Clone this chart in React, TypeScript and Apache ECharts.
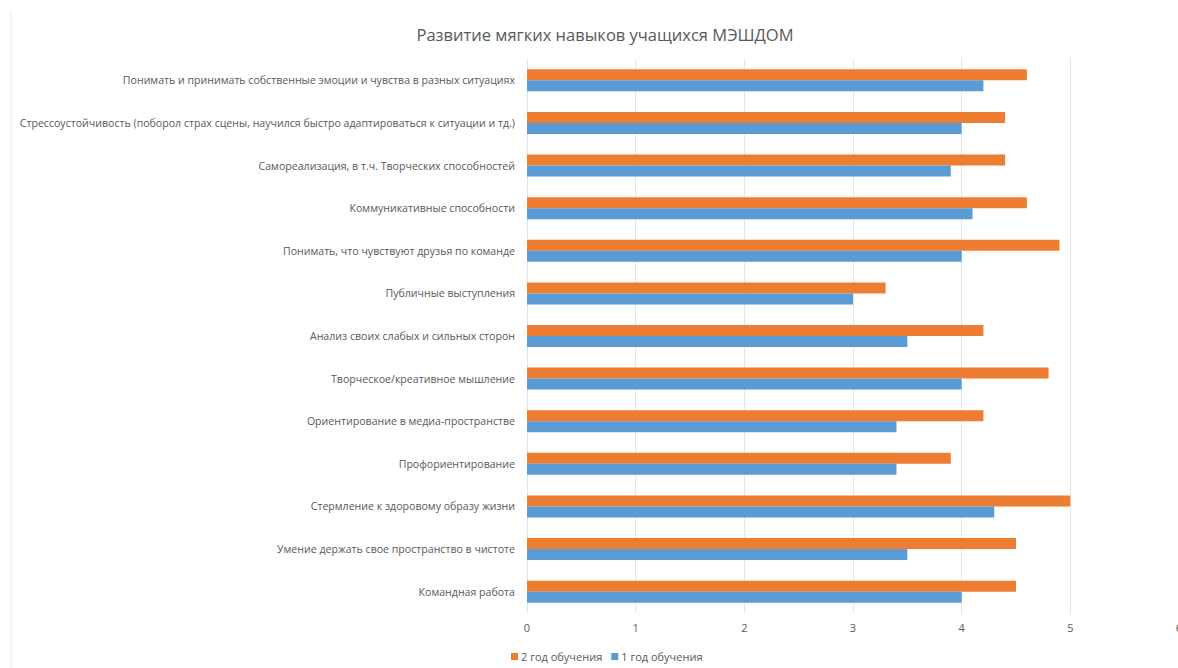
import React, { useEffect, useRef } from "react";
import * as echarts from "echarts";

const categories = [
  "Понимать и принимать собственные эмоции и чувства в разных ситуациях",
  "Стрессоустойчивость (поборол страх сцены, научился быстро адаптироваться к ситуации и тд.)",
  "Самореализация, в т.ч. Творческих способностей",
  "Коммуникативные способности",
  "Понимать, что чувствуют друзья по команде",
  "Публичные выступления",
  "Анализ своих слабых и сильных сторон",
  "Творческое/креативное мышление",
  "Ориентирование в медиа-пространстве",
  "Профориентирование",
  "Стермление к здоровому образу жизни",
  "Умение держать свое пространство в чистоте",
  "Командная работа",
];

const year2 = [4.6, 4.4, 4.4, 4.6, 4.9, 3.3, 4.2, 4.8, 4.2, 3.9, 5.0, 4.5, 4.5];
const year1 = [4.2, 4.0, 3.9, 4.1, 4.0, 3.0, 3.5, 4.0, 3.4, 3.4, 4.3, 3.5, 4.0];

const seriesNames = ["2 год обучения", "1 год обучения"];
const titleText = "Развитие мягких навыков учащихся МЭШДОМ";

const FONT = "'Open Sans', 'Liberation Sans', sans-serif";
const TEXT = "#595959";

export default function App() {
  const ref = useRef<HTMLDivElement>(null);
  useEffect(() => {
    document.body.style.margin = "0";
    const chart = echarts.init(ref.current!, null, { renderer: "svg" });
    chart.setOption({
      animation: false,
      backgroundColor: "#ffffff",
      title: {
        text: titleText,
        left: 600,
        textAlign: "center",
        top: 21,
        textStyle: { fontFamily: FONT, fontSize: 16.5, fontWeight: "normal", color: TEXT },
      },
      legend: {
        bottom: 1,
        left: 506,
        itemWidth: 7,
        itemHeight: 7,
        itemGap: 9,
        icon: "rect",
        textStyle: { fontFamily: FONT, fontSize: 11, color: TEXT, padding: [0, 0, 0, -2] },
        data: seriesNames,
      },
      grid: {
        left: 527,
        right: -1,
        top: 59,
        bottom: 55,
        containLabel: false,
        outerBoundsMode: "none",
      },
      xAxis: {
        type: "value",
        min: 0,
        max: 6,
        interval: 1,
        axisLine: { show: false },
        axisTick: { show: false },
        splitLine: { show: true, lineStyle: { color: "#e6e6e6", width: 1 } },
        axisLabel: { fontFamily: FONT, fontSize: 11, color: TEXT, margin: 9 },
      },
      yAxis: {
        type: "category",
        inverse: true,
        data: categories,
        axisLine: { show: true, lineStyle: { color: "#e6e6e6" } },
        axisTick: { show: false },
        axisLabel: { fontFamily: FONT, fontSize: 10.6, color: TEXT, margin: 12 },
      },
      series: [
        {
          name: seriesNames[0],
          type: "bar",
          data: year2,
          barWidth: 11,
          barGap: "0%",
          itemStyle: { color: "#ED7D31" },
        },
        {
          name: seriesNames[1],
          type: "bar",
          data: year1,
          barWidth: 11,
          barGap: "0%",
          itemStyle: { color: "#5B9BD5" },
        },
      ],
      graphic: [
        {
          type: "line",
          shape: { x1: 11, y1: 10, x2: 11, y2: 668 },
          style: { stroke: "#e8e8e8", lineWidth: 1 },
          silent: true,
        },
      ],
    });
    return () => chart.dispose();
  }, []);
  return <div ref={ref} style={{ width: 1178, height: 668 }} />;
}
